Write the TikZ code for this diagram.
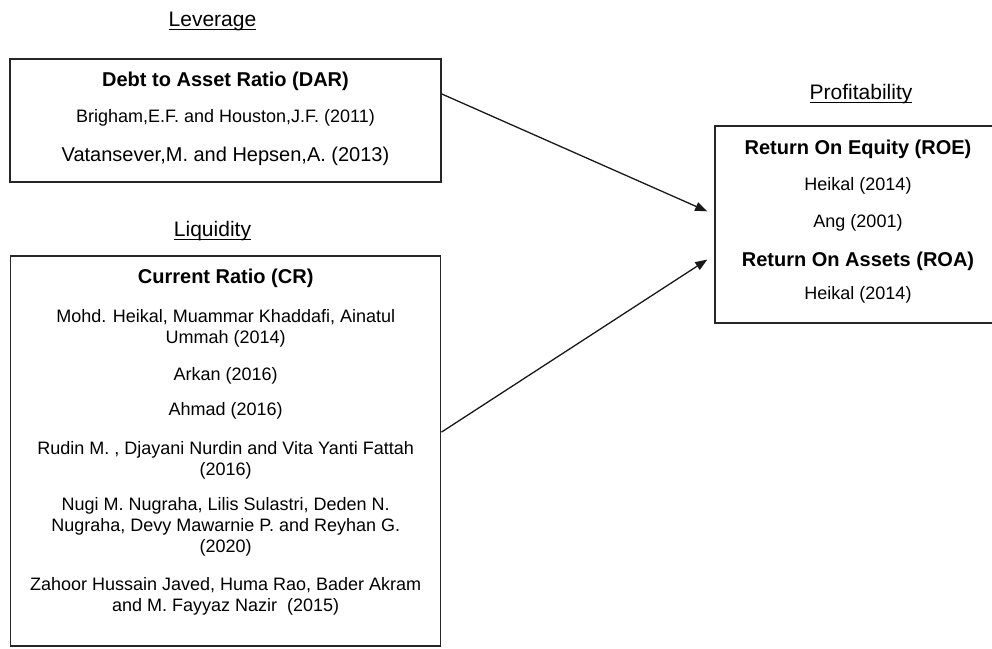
\documentclass[tikz,border=0pt]{standalone}
\usepackage{amsmath}
\usepackage{fontspec}
\setmainfont{Liberation Sans}
\usetikzlibrary{arrows.meta}

\tikzset{
	box/.style={draw=black!85, line width=1.5pt, inner sep=0pt},
	head/.style={font=\fontsize{21}{25}\selectfont, inner sep=0pt, anchor=north},
	title/.style={font=\bfseries\fontsize{20}{24}\selectfont, inner sep=0pt, anchor=north},
	ref/.style={font=\fontsize{18}{21}\selectfont, inner sep=0pt, anchor=north, align=center},
	conn/.style={draw=black!90, line width=1.3pt, -{Triangle[length=12pt,width=9pt]}},
}

\begin{document}
\begin{tikzpicture}[x=1pt,y=-1pt]
	         \clip (0,0) rectangle (992,648);
	         % boxes
	         \node[box, minimum width=431pt, minimum height=123pt] (dar) at (225.5,120.5) {};
	         \node[box, minimum width=430pt, minimum height=390pt] (cr) at (225.7,451) {};
	         \node[box, minimum width=286pt, minimum height=197pt] (prof) at (858,224.5) {};
	         % headings
	         \node[head] (lev) at (212.5,11.5) {\underline{\smash[b]{Leverage}}};
	         \node[head] (liq) at (212.5,221) {\underline{\smash[b]{Liquidity}}};
	         \node[head] (pro) at (861,84.5) {\underline{\smash[b]{Profitability}}};
	         % leverage
	         \node[title] (dart) at (225.5,71.5) {Debt to Asset Ratio (DAR)};
	         \node[ref] (d1) at (225.5,109.5) {Brigham,E.F. and Houston,J.F. (2011)};
	         \node[ref, font=\fontsize{20}{23}\selectfont] (d2) at (225.5,146.5) {Vatansever,M. and Hepsen,A. (2013)};
	         % liquidity
	         \node[title] (crt) at (225.7,268.5) {Current Ratio (CR)};
	         \node[ref] (c1) at (225.7,309.5) {Mohd. Heikal, Muammar Khaddafi, Ainatul\\Ummah (2014)};
	         \node[ref] (c2) at (225.7,367.5) {Arkan (2016)};
	         \node[ref] (c3) at (225.7,402.5) {Ahmad (2016)};
	         \node[ref] (c4) at (225.7,441.5) {Rudin M. , Djayani Nurdin and Vita Yanti Fattah\\(2016)};
	         \node[ref] (c5) at (225.7,497.5) {Nugi M. Nugraha, Lilis Sulastri, Deden N.\\Nugraha, Devy Mawarnie P. and Reyhan G.\\(2020)};
	         \node[ref] (c6) at (225.7,577.5) {Zahoor Hussain Javed, Huma Rao, Bader Akram\\and M. Fayyaz Nazir~ (2015)};
	         % profitability
	         \node[title] (roe) at (858,139.5) {Return On Equity (ROE)};
	         \node[ref] (p1) at (858,177.5) {Heikal (2014)};
	         \node[ref] (p2) at (858,214.5) {Ang (2001)};
	         \node[title] (roa) at (858,251.5) {Return On Assets (ROA)};
	         \node[ref] (p3) at (858,286.5) {Heikal (2014)};
	         % arrows
	         \draw[conn, shorten >=7.7pt] (dar.7.3) -- (prof.176.7);
	         \draw[conn, shorten >=8.3pt] (cr.5.6) -- (prof.192.2);
	     \end{tikzpicture}
\end{document}
